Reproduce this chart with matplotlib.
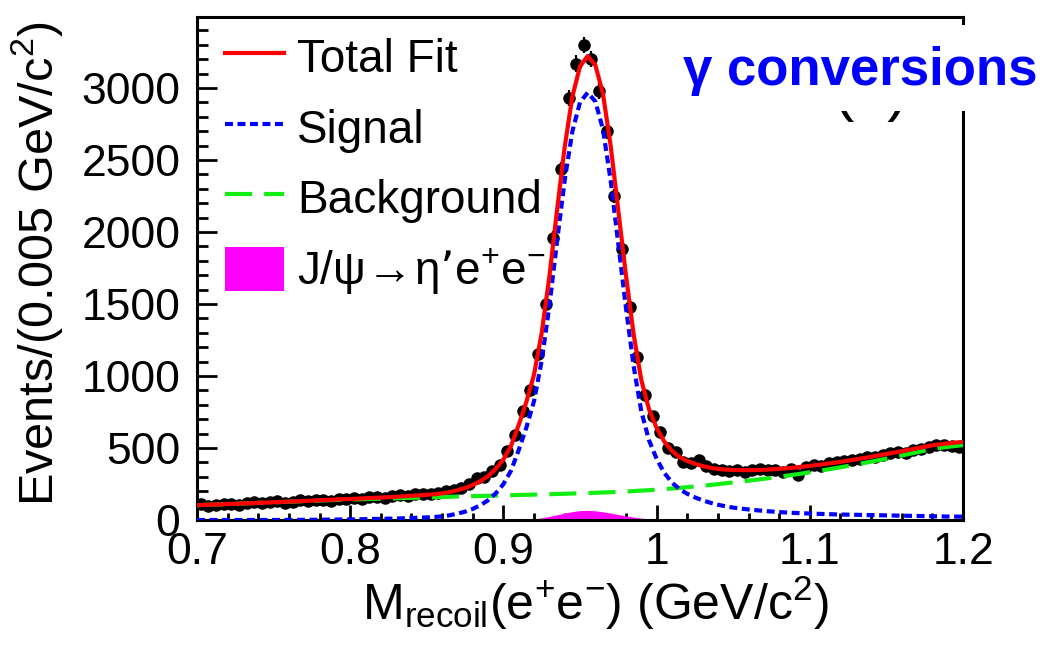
import numpy as np
import matplotlib
matplotlib.use("Agg")
import matplotlib.pyplot as plt
from matplotlib.lines import Line2D
from matplotlib.patches import Patch, Rectangle
from matplotlib.ticker import MultipleLocator, FuncFormatter

plt.rcParams["font.family"] = ["Liberation Sans", "DejaVu Sans"]
plt.rcParams["mathtext.default"] = "regular"

# ---- measured spectrum: bin centres (0.005 GeV/c^2 bins) and counts ----
bin_centres = np.linspace(0.7025, 1.1975, 100)
counts = [
    108, 100, 103, 110, 112, 106, 118, 122, 115, 128,
    131, 120, 126, 136, 132, 140, 138, 130, 147, 145,
    152, 144, 158, 162, 155, 168, 172, 166, 178, 182,
    178, 190, 200, 210, 225, 250, 290, 300, 340, 385,
    480, 590, 760, 900, 1150, 1500, 1960, 2440, 2930, 3170,
    3300, 3200, 2980, 2700, 2250, 1880, 1480, 1130, 870, 720,
    610, 500, 470, 400, 395, 415, 372, 352, 345, 340,
    344, 336, 348, 352, 350, 346, 330, 355, 310, 370,
    380, 376, 395, 400, 412, 418, 425, 440, 435, 450,
    462, 470, 468, 485, 495, 505, 520, 522, 515, 510,
]

# ---- fit components sampled along the mass axis ----
fit_x = np.concatenate([
    np.linspace(0.70, 0.84, 15),
    np.linspace(0.85, 1.045, 40),
    np.linspace(1.05, 1.20, 16),
])
signal = [
    0, 0, 0, 0, 0, 0, 1, 1, 2, 3, 4, 6, 8, 10, 14,
    18, 21, 25, 33, 44, 58, 77, 103, 137, 185,
    249, 343, 486, 642, 826, 1107, 1486, 1933, 2360, 2698,
    2900, 2968, 2907, 2712, 2359, 1917, 1474, 1069, 756, 555,
    425, 328, 260, 214, 182, 157, 137, 120, 106, 95,
    86, 73, 63, 55, 49, 45, 41, 38, 36, 34, 32, 30, 28, 26, 24, 23,
]
background = [
    103, 107, 111, 115, 119, 123, 127, 131, 135, 139, 142, 145, 148, 151, 154,
    157, 158, 160, 161, 163, 164, 166, 167, 168, 170,
    171, 172, 174, 175, 176, 178, 179, 181, 182, 184,
    185, 187, 189, 191, 193, 195, 198, 201, 204, 207,
    211, 215, 219, 223, 228, 233, 238, 243, 249, 255,
    261, 273, 286, 300, 315, 331, 348, 366, 385, 405, 426, 448, 470, 493, 508, 520,
]
peaking = [
    0, 0, 0, 0, 0, 0, 0, 0, 0, 0, 0, 0, 0, 0, 0,
    0, 0, 0, 0, 0, 0, 0, 0, 0, 0,
    0, 0, 0, 3, 8, 15, 25, 36, 48, 58,
    65, 67, 64, 57, 48, 38, 28, 20, 13, 8,
    4, 2, 1, 0, 0, 0, 0, 0, 0, 0,
    0, 0, 0, 0, 0, 0, 0, 0, 0, 0, 0, 0, 0, 0, 0, 0,
]
total_fit = np.array(signal) + np.array(background) + np.array(peaking)

x_ticks = [0.7, 0.8, 0.9, 1.0, 1.1, 1.2]
y_ticks = [0, 500, 1000, 1500, 2000, 2500, 3000]

RED, BLUE, GREEN, MAGENTA = "#ff0000", "#0000ff", "#11ee11", "#ff00ff"
LW = 3.0
SIG_DASH = (1.9, 1.1)
BKG_DASH = (6.5, 2.9)

W_PX, H_PX = 1043, 653
fig = plt.figure(figsize=(W_PX / 100, H_PX / 100), dpi=100)
left, right, top, bottom = 197, 963, 17, 520
ax = fig.add_axes([left / W_PX, 1 - bottom / H_PX,
                   (right - left) / W_PX, (bottom - top) / H_PX])

# peaking background J/psi -> eta' e+ e-
ax.fill_between(fit_x, 0, peaking, color=MAGENTA, lw=0, zorder=2)

# data with Poisson errors
ax.errorbar(bin_centres, counts, yerr=np.sqrt(counts), xerr=0.0025, fmt="o",
            color="black", ms=8, elinewidth=1.6, capsize=0, zorder=3)

ax.plot(fit_x, background, color=GREEN, lw=LW, dashes=BKG_DASH, zorder=4)
ax.plot(fit_x, signal, color=BLUE, lw=LW, dashes=SIG_DASH, zorder=4)
ax.plot(fit_x, total_fit, color=RED, lw=LW, zorder=5)

ax.set_xlim(0.7, 1.2)
ax.set_ylim(0, 3493)
ax.set_xticks(x_ticks)
ax.set_yticks(y_ticks)
ax.xaxis.set_minor_locator(MultipleLocator(0.02))
ax.yaxis.set_minor_locator(MultipleLocator(100))
ax.xaxis.set_major_formatter(FuncFormatter(lambda v, p: f"{v:g}"))

for s in ax.spines.values():
    s.set_linewidth(2.2)
ax.tick_params(which="both", direction="in", top=False, right=False, width=2.0)
ax.tick_params(axis="x", which="major", length=10.5, labelsize=32, pad=9)
ax.tick_params(axis="x", which="minor", length=5)
ax.tick_params(axis="y", which="major", length=14.5, labelsize=32, pad=12)
ax.tick_params(axis="y", which="minor", length=8)

ax.set_ylabel("Events/(0.005 GeV/c$^{2}$)", fontsize=35)
ax.yaxis.set_label_coords(-0.172, 0.51)
ax.set_xlabel("M$_{recoil}$(e$^{+}$e$^{-}$) (GeV/c$^{2}$)", fontsize=36)
ax.xaxis.set_label_coords(0.52, -0.108)

handles = [
    Line2D([], [], color=RED, lw=LW),
    Line2D([], [], color=BLUE, lw=LW, dashes=SIG_DASH),
    Line2D([], [], color=GREEN, lw=LW, dashes=BKG_DASH),
    Patch(facecolor=MAGENTA, edgecolor="none"),
]
labels = ["Total Fit", "Signal", "Background",
          "J/ψ$\\!\\rightarrow\\!$η’e$^{+}$e$^{-}$"]
ax.legend(handles, labels, loc="upper left", bbox_to_anchor=(0.036, 0.965),
          frameon=False, fontsize=33, handlelength=1.3, handleheight=1.1,
          handletextpad=0.28, labelspacing=0.5, borderpad=0, borderaxespad=0)

# panel tag, partly hidden behind the channel label box
ax.text((833 - left) / (right - left), (bottom - 109) / (bottom - top), "(b)",
        fontsize=44, ha="left", va="baseline", transform=ax.transAxes, zorder=1)

fig.add_artist(Rectangle((668 / W_PX, 1 - 111 / H_PX), (W_PX - 668) / W_PX,
                         (111 - 25) / H_PX, transform=fig.transFigure,
                         facecolor="white", edgecolor="none", zorder=10))
fig.text(683 / W_PX, 1 - 85 / H_PX, "γ conversions", color=BLUE,
         fontsize=38, fontweight="bold", ha="left", va="baseline", zorder=11)

fig.savefig("out.png", dpi=100)
